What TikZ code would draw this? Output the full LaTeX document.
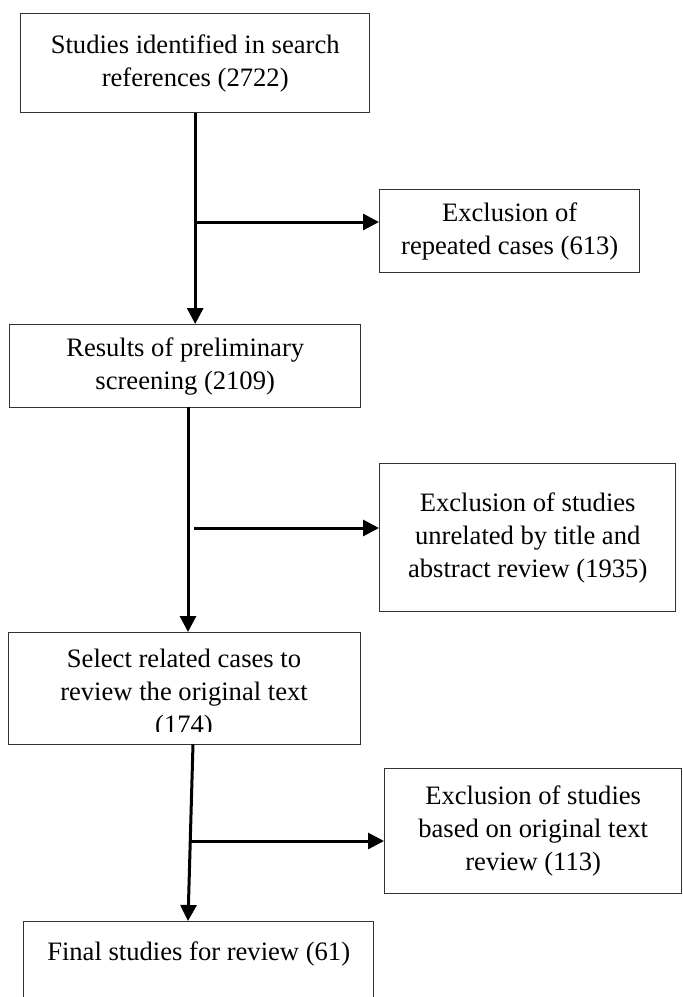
\documentclass[tikz,border=0pt]{standalone}
\usepackage{fontspec}
\setmainfont{Liberation Serif}
\usetikzlibrary{arrows.meta,calc}
\begin{document}
\begin{tikzpicture}[x=1pt,y=-1pt,
  boxbase/.style={draw=black!80, line width=1.4pt, rectangle, anchor=north west, inner sep=0pt, font=\fontsize{26.6}{33}\selectfont},
  box/.style={boxbase, align=center},
  txt/.style={align=center, inner sep=0pt, font=\fontsize{26.6}{33}\selectfont},
  conn/.style={line width=3pt, draw=black},
  arr/.style={conn, -{Triangle[length=16pt,width=16pt]}}]
\useasboundingbox (0,0) rectangle (683,997);

\node[box, minimum width=349pt, minimum height=99pt] (b1) at (20,13) {Studies identified in search\\references (2722)};
\node[box, minimum width=260pt, minimum height=83pt] (b2) at (379,189) {Exclusion of\\repeated cases (613)};
\node[box, minimum width=351pt, minimum height=83pt] (b3) at (9,324) {Results of preliminary\\screening (2109)};
\node[box, minimum width=296pt, minimum height=148pt] (b5) at (379,463) {Exclusion of studies\\unrelated by title and\\abstract review (1935)};
\node[box, minimum width=352pt, minimum height=112pt] (b4) at (8,632) {};
\begin{scope}
  \clip (8,632) rectangle (360,731);
  \node[txt] (t4) at (184,694) {Select related cases to\\review the original text\\(174)};
\end{scope}
\node[box, minimum width=297pt, minimum height=125pt] (b6) at (384,768) {Exclusion of studies\\based on original text\\review (113)};
\node[boxbase, minimum width=350pt, text height=39pt, text depth=80pt] (b7) at (23,921) {Final studies for review (61)};

% connectors
\draw[arr] (b1.south) -- (b1.south |- b3.north);
\coordinate (j1) at (194.5,222);
\draw[arr] (j1) -- (j1 -| b2.west);

\coordinate (s3) at (188,407);
\draw[arr] (s3) -- (s3 |- b4.north);
\coordinate (j2) at (194,528);
\draw[arr] (j2) -- (j2 -| b5.west);

\coordinate (s4) at (193,744);
\coordinate (n7) at (188,921);
\draw[arr] (s4) -- (n7);
\coordinate (j3) at (190,841);
\draw[arr] (j3) -- (j3 -| b6.west);
\end{tikzpicture}
\end{document}
